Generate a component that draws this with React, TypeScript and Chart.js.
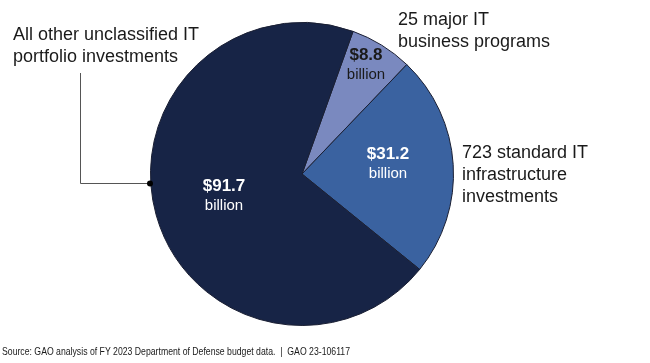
import React, { useEffect, useRef } from "react";
import { Chart, registerables } from "chart.js";

Chart.register(...registerables);

const categories = [
  "25 major IT business programs",
  "723 standard IT infrastructure investments",
  "All other unclassified IT portfolio investments",
];
const values = [8.8, 31.2, 91.7];
const valueLabels = ["$8.8", "$31.2", "$91.7"];
const colors = ["#7a89bf", "#3a62a0", "#172446"];
const innerTextColors = ["#1a1a1a", "#ffffff", "#ffffff"];
const sourceText =
  "Source: GAO analysis of FY 2023 Department of Defense budget data.  |  GAO 23-106117";

const FONT = "'Liberation Sans', Arial, Helvetica, sans-serif";

const labelPlugin = {
  id: "gaoLabels",
  afterDraw(chart: any) {
    const ctx = chart.ctx as CanvasRenderingContext2D;
    const meta = chart.getDatasetMeta(0);
    const arc0 = meta.data[0] as any;
    const cx = arc0.x;
    const cy = arc0.y;
    ctx.save();
    ctx.textBaseline = "middle";

    // inner value labels (offsets from pie centre)
    const inner = [
      { dx: 64, dy: -119 },
      { dx: 86, dy: -20 },
      { dx: -78, dy: 12 },
    ];
    values.forEach((v, i) => {
      ctx.fillStyle = innerTextColors[i];
      ctx.textAlign = "center";
      ctx.font = `bold 17px ${FONT}`;
      ctx.fillText(valueLabels[i], cx + inner[i].dx, cy + inner[i].dy);
      ctx.font = `15px ${FONT}`;
      ctx.fillText("billion", cx + inner[i].dx, cy + inner[i].dy + 20);
    });

    // outer category labels
    ctx.fillStyle = "#1a1a1a";
    ctx.textAlign = "left";
    ctx.font = `18px ${FONT}`;
    const outer = [
      { x: 398, y: 20, lines: ["25 major IT", "business programs"] },
      { x: 462, y: 153, lines: ["723 standard IT", "infrastructure", "investments"] },
      { x: 13, y: 35, lines: ["All other unclassified IT", "portfolio investments"] },
    ];
    outer.forEach((o) => {
      o.lines.forEach((l, j) => ctx.fillText(l, o.x, o.y + j * 22));
    });

    // leader line for the large slice
    ctx.strokeStyle = "#555555";
    ctx.lineWidth = 1;
    ctx.beginPath();
    ctx.moveTo(80.5, 73);
    ctx.lineTo(80.5, 183.5);
    ctx.lineTo(150, 183.5);
    ctx.stroke();
    ctx.fillStyle = "#000000";
    ctx.beginPath();
    ctx.arc(150, 183.5, 3, 0, Math.PI * 2);
    ctx.fill();

    // source line (narrow)
    ctx.fillStyle = "#1a1a1a";
    ctx.font = `11px ${FONT}`;
    const w = ctx.measureText(sourceText).width;
    const target = 348;
    ctx.translate(2, 352);
    ctx.scale(target / w, 1);
    ctx.fillText(sourceText, 0, 0);
    ctx.restore();
  },
};

export default function App() {
  const ref = useRef<HTMLCanvasElement | null>(null);
  useEffect(() => {
    document.body.style.margin = "0";
    const canvas = ref.current!;
    const chart = new Chart(canvas, {
      type: "pie",
      data: {
        labels: categories,
        datasets: [
          {
            data: values,
            backgroundColor: colors,
            borderColor: "#1a1f33",
            borderWidth: 1,
          },
        ],
      },
      options: {
        responsive: false,
        animation: false,
        rotation: 19.7,
        layout: { padding: { left: 150, right: 196, top: 22, bottom: 37 } },
        plugins: {
          legend: { display: false },
          tooltip: { enabled: false },
        },
      },
      plugins: [labelPlugin],
    });
    return () => chart.destroy();
  }, []);
  return (
    <div style={{ width: 650, height: 363, background: "#ffffff" }}>
      <canvas ref={ref} width={650} height={363} style={{ display: "block" }} />
    </div>
  );
}
